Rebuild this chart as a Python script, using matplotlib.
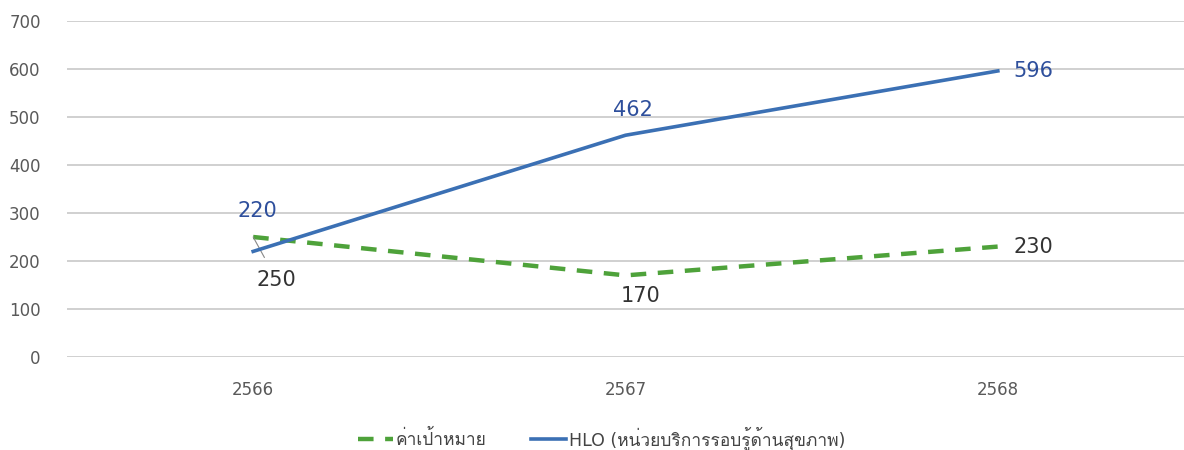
import matplotlib
matplotlib.use("Agg")
import matplotlib.pyplot as plt
from matplotlib import font_manager
from matplotlib.ft2font import FT2Font

years = ["2566", "2567", "2568"]
target = [250, 170, 230]
hlo = [220, 462, 596]
target_label = "ค่าเป้าหมาย"
hlo_label = "HLO (หน่วยบริการรอบรู้ด้านสุขภาพ)"


def find_thai_font():
    # look for any installed font that has Thai glyphs
    for f in font_manager.fontManager.ttflist:
        try:
            if 0x0E04 in FT2Font(f.fname).get_charmap():
                return f.name
        except Exception:
            pass
    return None


thai = find_thai_font()
families = ["DejaVu Sans"] + ([thai] if thai else [])
plt.rcParams["font.family"] = families

fig = plt.figure(figsize=(11.84, 4.5), dpi=100)
ax = fig.add_axes([0.0566, 0.2067, 0.9434, 0.7466])

x = list(range(len(years)))
ax.plot(x, target, color="#4ea23a", lw=3.2, dashes=(3.5, 2.6), zorder=3, label=target_label)
ax.plot(x, hlo, color="#3b70b4", lw=2.6, zorder=4, label=hlo_label)

ax.set_xlim(-0.5, 2.5)
ax.set_ylim(0, 700)
ax.set_yticks(range(0, 701, 100))
ax.set_xticks(x)
ax.set_xticklabels(years)
ax.grid(axis="y", color="#c8c8c8", lw=1.2)
ax.set_axisbelow(True)
for s in ax.spines.values():
    s.set_visible(False)
ax.tick_params(axis="both", length=0, labelsize=12, colors="#595959")
ax.tick_params(axis="y", pad=19)
ax.tick_params(axis="x", pad=17)

blue_txt = "#2e4f9c"
dark_txt = "#333333"
fs = 15
# data labels
ax.annotate(str(hlo[0]), (x[0], hlo[0]), xytext=(3, 29), textcoords="offset points",
            ha="center", va="center", fontsize=fs, color=blue_txt)
ax.annotate(str(hlo[1]), (x[1], hlo[1]), xytext=(5, 18), textcoords="offset points",
            ha="center", va="center", fontsize=fs, color=blue_txt)
ax.annotate(str(hlo[2]), (x[2], hlo[2]), xytext=(11, 0), textcoords="offset points",
            ha="left", va="center", fontsize=fs, color=blue_txt)
ax.annotate(str(target[0]), (x[0], target[0]), xytext=(17, -31), textcoords="offset points",
            ha="center", va="center", fontsize=fs, color=dark_txt,
            arrowprops=dict(arrowstyle="-", color="#888888", lw=0.8, shrinkA=8, shrinkB=0))
ax.annotate(str(target[1]), (x[1], target[1]), xytext=(11, -15), textcoords="offset points",
            ha="center", va="center", fontsize=fs, color=dark_txt)
ax.annotate(str(target[2]), (x[2], target[2]), xytext=(11, 0), textcoords="offset points",
            ha="left", va="center", fontsize=fs, color=dark_txt)

leg = fig.legend(loc="center", bbox_to_anchor=(0.508, 0.027), ncol=2, frameon=False,
                 fontsize=12.5, handlelength=2.0, handletextpad=0.15, columnspacing=2.6)
for t in leg.get_texts():
    t.set_color("#444444")

fig.savefig("out.png", dpi=100)
